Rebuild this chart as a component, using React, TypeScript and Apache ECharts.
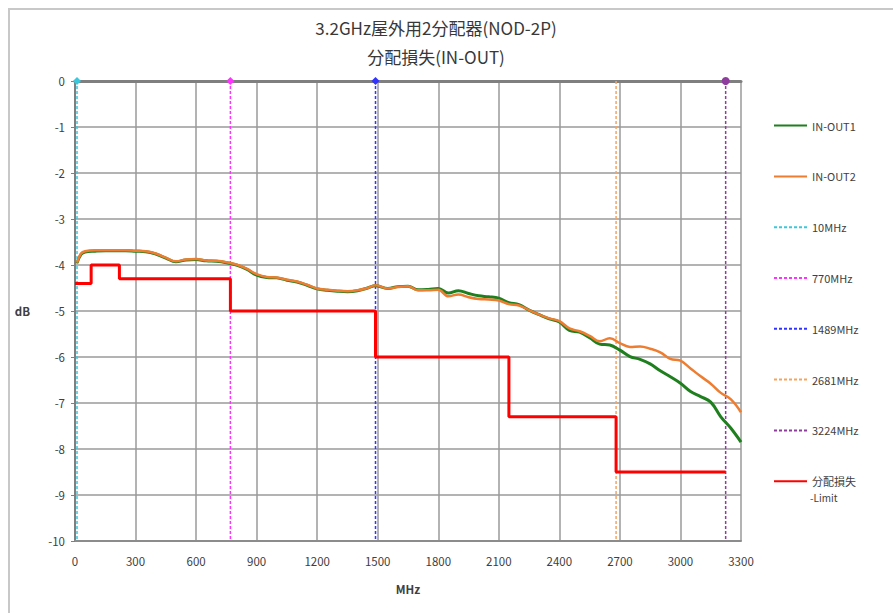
import React, { useEffect, useRef } from "react";
import * as echarts from "echarts";

const freqs = [10, 30, 50, 100, 150, 200, 250, 300, 350, 400, 450, 500, 550, 600, 650, 700, 750, 800, 850, 900, 950, 1000, 1050, 1100, 1150, 1200, 1250, 1300, 1350, 1400, 1450, 1489, 1550, 1600, 1650, 1700, 1750, 1800, 1850, 1900, 1950, 2000, 2050, 2100, 2150, 2200, 2250, 2300, 2350, 2400, 2450, 2500, 2550, 2600, 2650, 2700, 2750, 2800, 2850, 2900, 2950, 3000, 3050, 3100, 3150, 3200, 3250, 3300];

const inOut1 = [-3.96, -3.77, -3.72, -3.70, -3.69, -3.69, -3.69, -3.70, -3.71, -3.76, -3.85, -3.93, -3.89, -3.88, -3.91, -3.92, -3.95, -4.00, -4.09, -4.22, -4.27, -4.28, -4.33, -4.37, -4.44, -4.52, -4.55, -4.57, -4.58, -4.56, -4.50, -4.45, -4.51, -4.47, -4.46, -4.54, -4.53, -4.51, -4.61, -4.56, -4.62, -4.67, -4.69, -4.72, -4.82, -4.86, -4.98, -5.08, -5.17, -5.24, -5.42, -5.46, -5.58, -5.72, -5.74, -5.85, -5.99, -6.05, -6.15, -6.30, -6.43, -6.57, -6.75, -6.86, -6.98, -7.30, -7.55, -7.85];

const inOut2 = [-3.95, -3.75, -3.70, -3.68, -3.68, -3.68, -3.68, -3.69, -3.70, -3.75, -3.84, -3.92, -3.88, -3.87, -3.90, -3.91, -3.94, -3.99, -4.08, -4.20, -4.26, -4.27, -4.32, -4.36, -4.43, -4.51, -4.54, -4.56, -4.57, -4.55, -4.50, -4.44, -4.51, -4.48, -4.46, -4.55, -4.55, -4.54, -4.68, -4.64, -4.70, -4.74, -4.75, -4.77, -4.85, -4.88, -4.98, -5.08, -5.16, -5.22, -5.38, -5.44, -5.54, -5.66, -5.59, -5.70, -5.78, -5.77, -5.82, -5.90, -6.04, -6.08, -6.25, -6.42, -6.58, -6.78, -6.92, -7.20];

const limitFreqs = [0, 80, 220, 770, 1489, 2150, 2681, 3224];
const limitVals = [-4.4, -4.0, -4.3, -5.0, -6.0, -7.3, -8.5, -8.5];

const markerFreqs = [10, 770, 1489, 2681, 3224];
const markerNames = ["10MHz", "770MHz", "1489MHz", "2681MHz", "3224MHz"];
const markerColors = ["#3cc8dc", "#ff33ff", "#3333ff", "#f4a460", "#8e3c9e"];
const markerSymbols = ["diamond", "diamond", "diamond", "none", "circle"];

const xTicks = { min: 0, max: 3300, interval: 300 };
const yTicks = { min: -10, max: 0, interval: 1 };

const FONT = "'Noto Sans CJK JP', 'Noto Sans', sans-serif";

export default function App() {
  const ref = useRef<HTMLDivElement>(null);
  useEffect(() => {
    if (!ref.current) return;
    const chart = echarts.init(ref.current, undefined, { renderer: "svg" });
    const markerSeries = markerFreqs.map((f, i) => ({
      name: markerNames[i],
      type: "line",
      symbol: "none",
      data: [
        { value: [f, 0], symbol: markerSymbols[i], symbolSize: 8 },
        { value: [f, -10], symbol: "none" },
      ],
      lineStyle: { color: markerColors[i], width: 1.5, type: [3, 2] },
      itemStyle: { color: markerColors[i] },
      z: 3,
    }));
    chart.setOption({
      animation: false,
      textStyle: { fontFamily: FONT },
      title: {
        text: "3.2GHz屋外用2分配器(NOD-2P)\n分配損失(IN-OUT)",
        left: 431,
        textAlign: "center",
        top: 8,
        textStyle: { fontSize: 17, fontWeight: "normal", color: "#383838", lineHeight: 29, fontFamily: FONT },
      },
      grid: { left: 75, top: 81, right: 152, bottom: 72, containLabel: false },
      legend: {
        orient: "vertical",
        left: 773,
        top: 120,
        padding: 0,
        itemWidth: 33,
        itemHeight: 14,
        itemGap: 39.6,
        itemStyle: { opacity: 0 },
        textStyle: { fontSize: 11, color: "#404040", fontFamily: FONT },
        data: ["IN-OUT1", "IN-OUT2", ...markerNames, "分配損失"],
      },
      xAxis: [
        {
          type: "value",
          position: "bottom",
          ...xTicks,
          axisLine: { show: true, onZero: false, lineStyle: { color: "#8c8c8c", width: 2 } },
          axisTick: { show: false },
          axisLabel: { fontSize: 11.5, color: "#404040", margin: 14, formatter: (v: number) => String(v) },
          splitLine: { show: true, lineStyle: { color: "#9a9a9a", width: 1.5 } },
          name: "MHz",
          nameLocation: "middle",
          nameGap: 42,
          nameTextStyle: { fontSize: 11.5, fontWeight: "bold", color: "#404040" },
        },
        {
          type: "value",
          position: "top",
          ...xTicks,
          axisLine: { show: true, onZero: false, lineStyle: { color: "#7f7f7f", width: 3 } },
          axisTick: { show: false },
          axisLabel: { show: false },
          splitLine: { show: false },
        },
      ],
      yAxis: {
        type: "value",
        ...yTicks,
        axisLine: { show: true, onZero: false, lineStyle: { color: "#7f7f7f", width: 2 } },
        axisTick: { show: true, inside: false, length: 4, lineStyle: { color: "#7f7f7f" } },
        axisLabel: { fontSize: 11.5, color: "#404040", margin: 10 },
        splitLine: { show: true, lineStyle: { color: "#9a9a9a", width: 1.5 } },
        name: "dB",
        nameLocation: "middle",
        nameRotate: 0,
        nameGap: 45,
        nameTextStyle: { fontSize: 11.5, fontWeight: "bold", color: "#404040" },
      },
      series: [
        {
          name: "IN-OUT1",
          type: "line",
          symbol: "none",
          smooth: 0.4,
          data: freqs.map((f, i) => [f, inOut1[i]]),
          lineStyle: { color: "#1f7f1f", width: 3 },
          itemStyle: { color: "#1f7f1f" },
          z: 4,
        },
        {
          name: "IN-OUT2",
          type: "line",
          symbol: "none",
          smooth: 0.4,
          data: freqs.map((f, i) => [f, inOut2[i]]),
          lineStyle: { color: "#ed7d31", width: 2.5 },
          itemStyle: { color: "#ed7d31" },
          z: 4,
        },
        ...markerSeries,
        {
          name: "分配損失",
          type: "line",
          symbol: "none",
          step: "end",
          data: limitFreqs.map((f, i) => [f, limitVals[i]]),
          lineStyle: { color: "#ff0000", width: 3 },
          itemStyle: { color: "#ff0000" },
          z: 5,
        },
      ],
      graphic: [
        {
          type: "rect",
          shape: { x: 9, y: 9, width: 900, height: 620 },
          style: { fill: "none", stroke: "#c8c8c8", lineWidth: 2 },
          silent: true,
        },
        {
          type: "text",
          left: 810,
          top: 492,
          style: { text: "-Limit", fontSize: 10, fill: "#404040", fontFamily: FONT },
        },
      ],
    });
    return () => chart.dispose();
  }, []);
  return (
    <div
      ref={ref}
      style={{ position: "absolute", left: 0, top: 0, width: 893, height: 613, background: "#fff" }}
    />
  );
}
